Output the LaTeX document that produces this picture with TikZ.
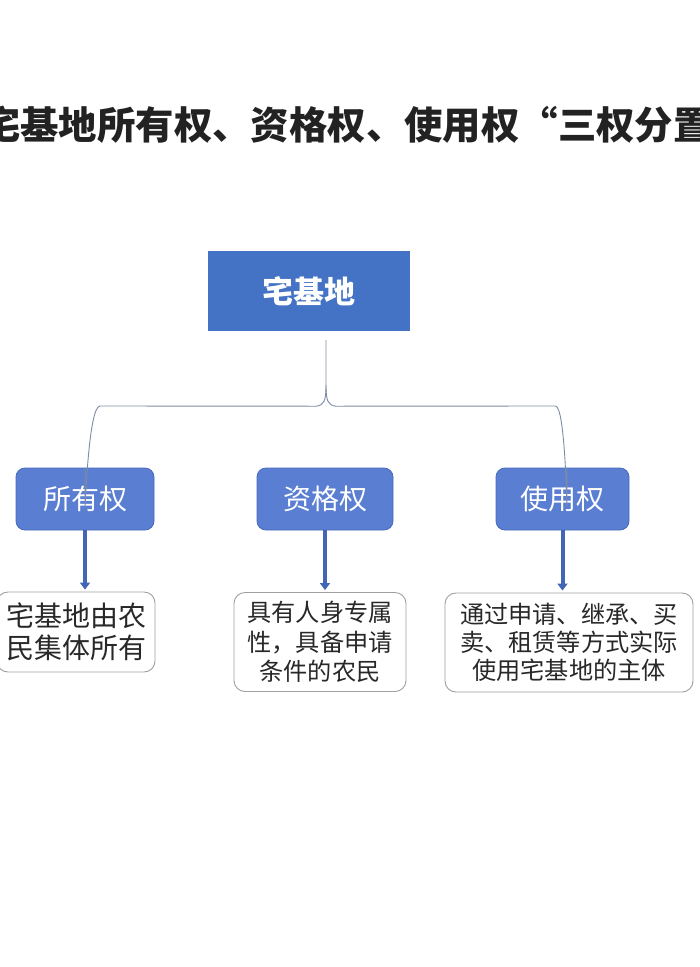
\documentclass[tikz,border=0pt]{standalone}
\usepackage{fontspec}
\newfontfamily\cjk{Noto Sans CJK SC}
\usetikzlibrary{arrows.meta}
\definecolor{topblue}{RGB}{68,114,196}
\definecolor{midblue}{RGB}{90,126,210}
\definecolor{midedge}{RGB}{72,106,190}
\definecolor{arrowblue}{RGB}{66,102,182}
\definecolor{bracegray}{RGB}{125,140,165}
\definecolor{descedge}{RGB}{160,160,160}
\definecolor{titlecol}{RGB}{34,34,34}
\definecolor{desctext}{RGB}{40,40,40}
\tikzset{
  topbox/.style={fill=topblue, draw=none, inner sep=0pt, minimum width=202pt, minimum height=80pt,
    text=white, font={\cjk\bfseries\fontsize{31}{34}\selectfont}},
  rightbox/.style={fill=midblue, draw=midedge, line width=0.8pt, rounded corners=9pt, inner sep=0pt,
    minimum height=62pt, text=white, font={\cjk\fontsize{28}{30}\selectfont}},
  descbox/.style={fill=white, draw=descedge, line width=0.9pt, rounded corners=11pt, inner sep=0pt,
    align=center, text=desctext},
  bracel/.style={draw=bracegray, line width=0.9pt},
  downarrow/.style={draw=arrowblue, line width=4pt, -{Triangle[width=10pt,length=7pt]}},
}
\begin{document}
\begin{tikzpicture}[x=1pt,y=-1pt]
\useasboundingbox (0,0) rectangle (700,967);
\fill[white] (0,0) rectangle (700,967);
\begin{scope}
\clip (0,0) rectangle (700,967);
\node[anchor=west, inner sep=0pt, text=titlecol, font={\cjk\bfseries\fontsize{38.4}{40}\selectfont}] (title) at (-18,125)
  {宅基地所有权、资格权、使用权“三权分置”};
\node[descbox, minimum width=158pt, minimum height=80pt, font={\cjk\fontsize{28}{32}\selectfont}] (d1) at (76,632)
  {宅基地由农\\民集体所有};
\node[descbox, minimum width=248pt, minimum height=99pt, font={\cjk\fontsize{24.2}{28}\selectfont}] (d3) at (569,642.5)
  {通过申请、继承、买\\卖、租赁等方式实际\\使用宅基地的主体};
\end{scope}
\node[topbox] (root) at (309,291) {宅基地};
\node[rightbox, minimum width=138pt] (own) at (85,499) {所有权};
\node[rightbox, minimum width=136pt] (qual) at (325,499) {资格权};
\node[rightbox, minimum width=133pt] (use) at (562.5,499) {使用权};
\node[descbox, minimum width=172pt, minimum height=99pt, font={\cjk\fontsize{24.2}{29.5}\selectfont}] (d2) at (320,642)
  {具有人身专属\\性，具备申请\\条件的农民};
% brace
\coordinate (bt) at ([xshift=17pt,yshift=-9pt]root.south);
\coordinate (cusp) at ([yshift=-45pt]bt);
\draw[bracel] (bt) -- (cusp)
  .. controls ([yshift=-16pt]cusp) and ([xshift=-2pt,yshift=-20pt]cusp) .. ([xshift=-10pt,yshift=-21pt]cusp)
  -- ([xshift=15pt]own.north |- 0,406)
  .. controls ([xshift=3pt]own.north |- 0,406) and ([yshift=-50pt]own.north) .. ([yshift=-38pt]own.north)
  -- (own.north);
\draw[bracel] (cusp)
  .. controls ([yshift=-16pt]cusp) and ([xshift=2pt,yshift=-20pt]cusp) .. ([xshift=10pt,yshift=-21pt]cusp)
  -- ([xshift=-7pt]use.north |- 0,406)
  .. controls ([xshift=3pt]use.north |- 0,406) and ([xshift=4.5pt,yshift=-50pt]use.north) .. ([xshift=4.5pt,yshift=-38pt]use.north)
  -- ([xshift=4.5pt]use.north);
% arrows
\draw[downarrow] (own.south) -- ([yshift=2pt]own.south |- d1.north);
\draw[downarrow] (qual.south) -- ([yshift=2pt]qual.south |- d2.north);
\draw[downarrow] (use.south) -- ([yshift=2pt]use.south |- d3.north);
\end{tikzpicture}
\end{document}
